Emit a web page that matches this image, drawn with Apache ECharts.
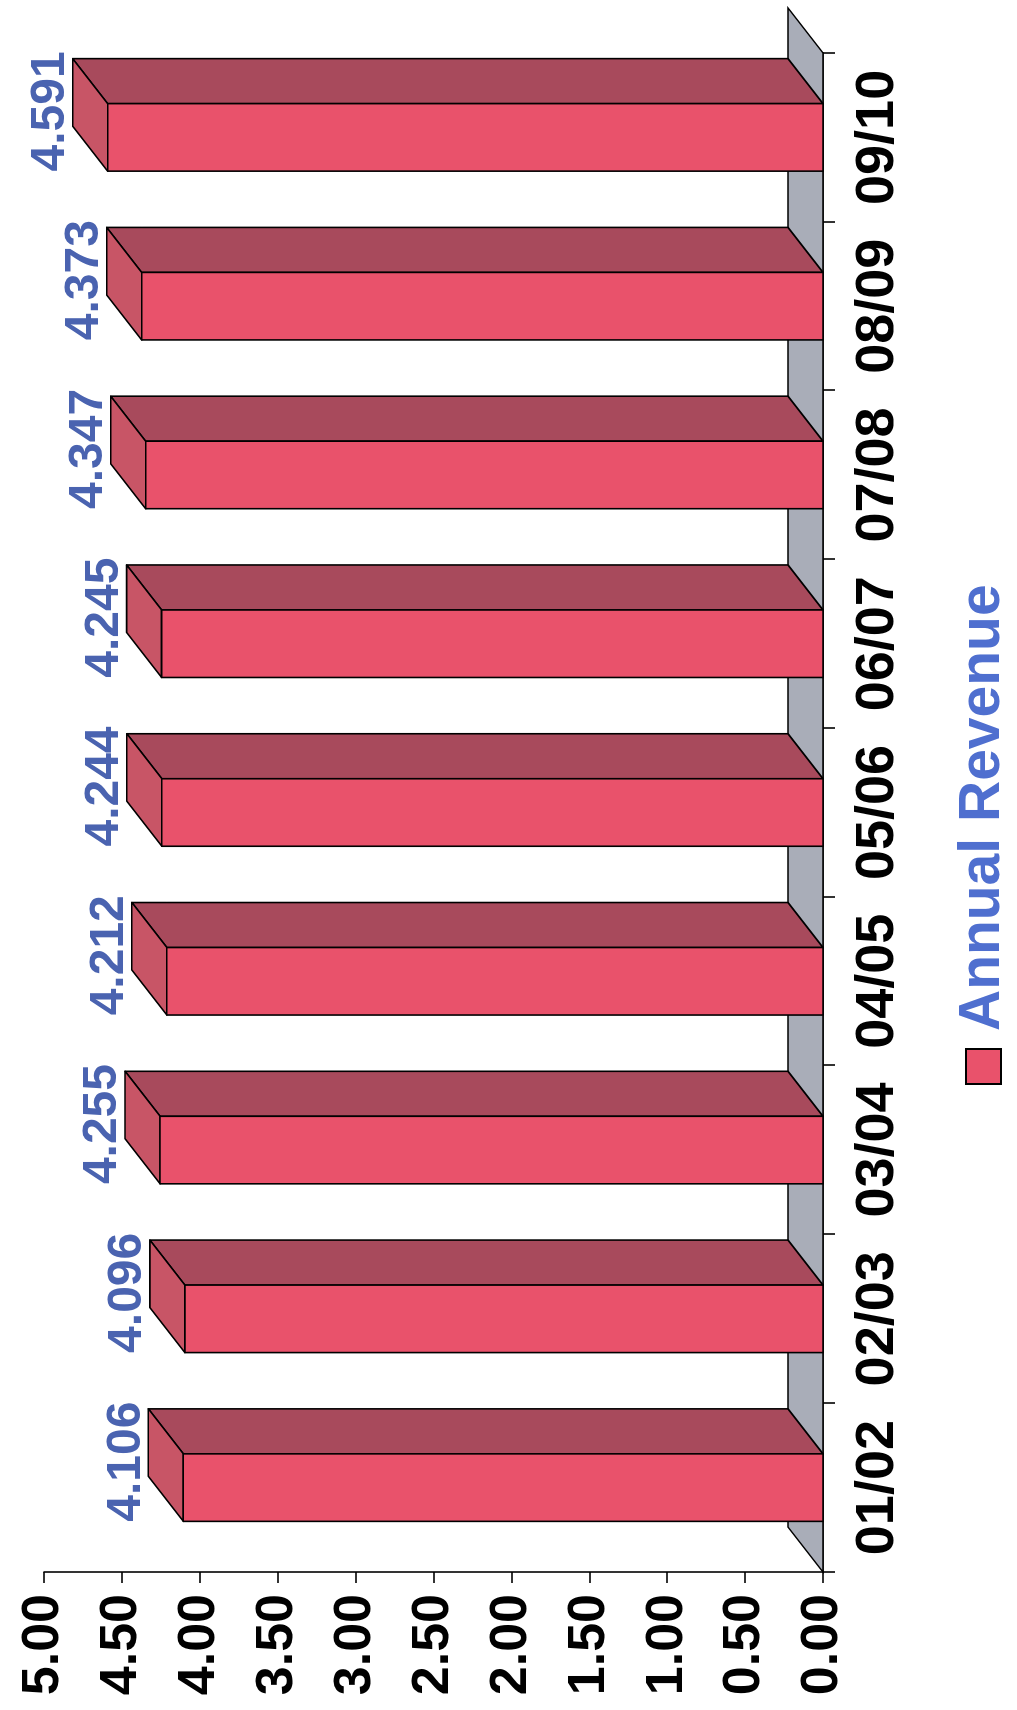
<!DOCTYPE html>
<html>
<head>
<meta charset="utf-8">
<script src="https://cdn.jsdelivr.net/npm/echarts@6/dist/echarts.min.js"></script>
<style>
  html, body { margin: 0; padding: 0; background: #ffffff; overflow: hidden; width: 1017px; height: 1710px; }
  #chart {
    position: absolute; left: 0; top: 0;
    width: 1710px; height: 1017px;
    transform-origin: 0 0;
    transform: translate(0, 1710px) rotate(-90deg);
  }
</style>
</head>
<body>
<div id="chart"></div>
<script>
// ---- data ----
const categories = ['01/02', '02/03', '03/04', '04/05', '05/06', '06/07', '07/08', '08/09', '09/10'];
const revenue = [4.106, 4.096, 4.255, 4.212, 4.244, 4.245, 4.347, 4.373, 4.591];
const seriesName = 'Annual Revenue';
const valueTicks = { min: 0, max: 5, interval: 0.5 };

// ---- style ----
const FONT = '"Liberation Sans", Arial, Helvetica, sans-serif';
const DEPTH_X = 45, DEPTH_Y = -35;
const FRONT = '#e9526b', END = '#c85566', SIDE = '#a84a5c', FLOOR = '#a9adb8';

const chart = echarts.init(document.getElementById('chart'), null, { renderer: 'canvas' });

function renderFloor(params, api) {
  const cs = params.coordSys;
  const x0 = cs.x, x1 = cs.x + cs.width, y0 = cs.y + cs.height;
  return {
    type: 'polygon',
    shape: { points: [[x0, y0], [x1, y0], [x1 + DEPTH_X, y0 + DEPTH_Y], [x0 + DEPTH_X, y0 + DEPTH_Y]] },
    style: { fill: FLOOR, stroke: '#000', lineWidth: 1.5 }
  };
}

function renderBar(params, api) {
  const idx = api.value(0);
  const val = api.value(1);
  const base = api.coord([idx, 0]);
  const top = api.coord([idx, val]);
  const band = api.size([1, 0])[0];
  const w = band * 0.4;
  const xl = base[0] - w / 2, xr = base[0] + w / 2;
  const y0 = base[1], yv = top[1];
  const line = { stroke: '#000', lineWidth: 1.6, lineJoin: 'round' };
  return {
    type: 'group',
    children: [
      { type: 'polygon', shape: { points: [[xr, yv], [xr, y0], [xr + DEPTH_X, y0 + DEPTH_Y], [xr + DEPTH_X, yv + DEPTH_Y]] },
        style: Object.assign({ fill: SIDE }, line) },
      { type: 'polygon', shape: { points: [[xl, yv], [xr, yv], [xr + DEPTH_X, yv + DEPTH_Y], [xl + DEPTH_X, yv + DEPTH_Y]] },
        style: Object.assign({ fill: END }, line) },
      { type: 'rect', shape: { x: xl, y: yv, width: w, height: y0 - yv },
        style: Object.assign({ fill: FRONT }, line) },
      { type: 'text', x: base[0] + 26, y: yv + DEPTH_Y + 2,
        style: { text: val.toFixed(3), fill: '#4a63b0', fontSize: 48, fontWeight: 'bold', fontFamily: FONT,
                 align: 'center', verticalAlign: 'bottom' } }
    ]
  };
}

chart.setOption({
  animation: false,
  backgroundColor: '#ffffff',
  grid: { left: 138, right: 53, top: 44, bottom: 194, containLabel: false },
  legend: {
    data: [seriesName],
    left: 620, top: 950,
    icon: 'rect',
    itemWidth: 35, itemHeight: 35,
    itemStyle: { color: FRONT, borderColor: '#000', borderWidth: 2 },
    textStyle: { fontSize: 57, fontWeight: 'bold', color: '#4f6fcf', fontFamily: FONT, padding: [0, 0, 0, 13] }
  },
  xAxis: {
    type: 'category',
    data: categories,
    boundaryGap: true,
    axisLine: { show: true, lineStyle: { color: '#000', width: 1.6 } },
    axisTick: { show: true, length: 12, interval: 0, alignWithLabel: false, lineStyle: { color: '#000', width: 1.6 } },
    axisLabel: { interval: 0, margin: 28, fontSize: 54, fontWeight: 'bold', color: '#000', fontFamily: FONT },
    splitLine: { show: false }
  },
  yAxis: {
    type: 'value',
    min: valueTicks.min, max: valueTicks.max, interval: valueTicks.interval,
    axisLine: { show: true, lineStyle: { color: '#000', width: 1.6 } },
    axisTick: { show: true, length: 11, lineStyle: { color: '#000', width: 1.6 } },
    axisLabel: { margin: 22, fontSize: 52, fontWeight: 'bold', color: '#000', fontFamily: FONT,
                 formatter: v => v.toFixed(2) },
    splitLine: { show: false }
  },
  series: [
    {
      name: 'floor', type: 'custom', renderItem: renderFloor, data: [[0, 0]], z: 1, silent: true,
      tooltip: { show: false }
    },
    {
      name: seriesName, type: 'custom', renderItem: renderBar, z: 2,
      itemStyle: { color: FRONT },
      data: revenue.map((v, i) => [i, v])
    }
  ]
});
</script>
</body>
</html>
